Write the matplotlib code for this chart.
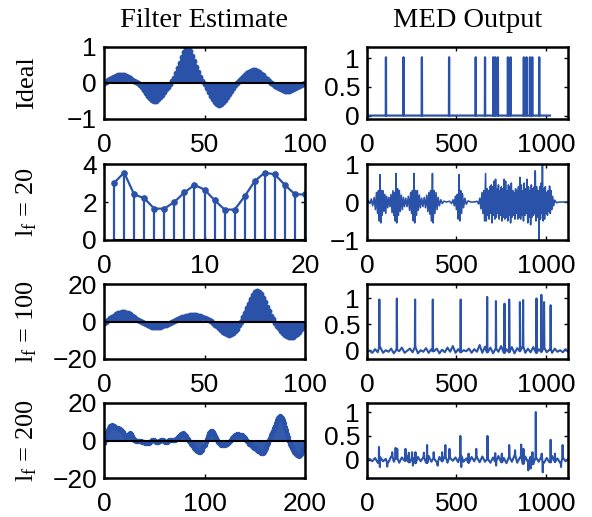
import numpy as np
import matplotlib
matplotlib.use('Agg')
import matplotlib.pyplot as plt

plt.rcParams['font.family'] = ['Liberation Sans', 'DejaVu Sans']
plt.rcParams['mathtext.fontset'] = 'custom'
plt.rcParams['mathtext.rm'] = 'Liberation Serif'
plt.rcParams['mathtext.it'] = 'Liberation Serif:italic'

BLUE = '#2a52a8'

# ---------------- data ----------------
col_titles = ['Filter Estimate', 'MED Output']
row_labels = ['Ideal', r'$\mathrm{l}_{\mathrm{f}}$ = 20', r'$\mathrm{l}_{\mathrm{f}}$ = 100', r'$\mathrm{l}_{\mathrm{f}}$ = 200']

ideal_filter = [0, 0.04, 0.08, 0.12, 0.15, 0.18, 0.20, 0.21, 0.22, 0.22,
                0.21, 0.19, 0.16, 0.13, 0.09, 0.06, 0.03, 0.0, -0.05, -0.12,
                -0.20, -0.28, -0.35, -0.42, -0.47, -0.50, -0.49, -0.45, -0.40, -0.33,
                -0.25, -0.17, -0.10, -0.03, 0.05, 0.15, 0.28, 0.42, 0.56, 0.72,
                0.86, 0.97, 1.0, 0.90, 0.76, 0.60, 0.45, 0.30, 0.17, 0.06,
                -0.04, -0.14, -0.25, -0.35, -0.44, -0.52, -0.57, -0.60, -0.58, -0.54,
                -0.47, -0.39, -0.30, -0.21, -0.13, -0.06, 0.0, 0.06, 0.12, 0.18,
                0.23, 0.28, 0.31, 0.34, 0.35, 0.35, 0.33, 0.30, 0.26, 0.21,
                0.15, 0.10, 0.05, 0.0, -0.04, -0.08, -0.12, -0.15, -0.18, -0.20,
                -0.21, -0.22, -0.21, -0.19, -0.17, -0.14, -0.11, -0.08, -0.05, -0.02,
                0.0]

lf20_filter = [3.0, 3.55, 2.4, 2.2, 1.65, 1.65, 2.0, 2.5, 2.9, 2.65,
               2.1, 1.6, 1.6, 2.3, 3.1, 3.55, 3.45, 2.9, 2.4, 2.4]

lf100_filter = [-1, 0, 1, 1.8, 2.5, 3.2, 3.8, 4.3, 4.7, 4.9,
                5.0, 4.8, 4.4, 3.8, 3.1, 2.4, 1.6, 0.9, 0.3, -0.3,
                -0.9, -1.5, -2.0, -2.4, -2.7, -2.9, -3.0, -3.0, -2.8, -2.5,
                -2.1, -1.7, -1.2, -0.7, -0.2, 0.3, 0.8, 1.3, 1.8, 2.2,
                2.6, 2.9, 3.2, 3.4, 3.5, 3.5, 3.4, 3.2, 2.9, 2.5,
                2.0, 1.4, 0.8, 0.1, -0.7, -1.6, -2.6, -3.6, -4.6, -5.5,
                -6.3, -6.8, -7.0, -6.8, -6.2, -5.2, -3.8, -2.0, 0.0, 2.2,
                4.5, 7.0, 9.5, 12.0, 14.0, 15.5, 16.2, 16.0, 14.5, 12.5,
                10.2, 7.8, 5.4, 3.2, 1.2, -0.6, -2.2, -3.7, -5.0, -6.1,
                -7.0, -7.7, -8.1, -8.2, -8.0, -7.4, -6.5, -5.4, -4.2, -3.0,
                -2.0]

lf200_filter = [-1.4, 0.5, 2.5, 4.3, 5.8, 6.9, 7.6, 8.0, 8.1, 7.9,
                7.5, 7.1, 6.8, 6.6, 6.5, 6.3, 6.0, 5.5, 5.0, 4.5,
                3.6, 2.6, 2.0, 2.4, 3.2, 3.7, 3.8, 3.3, 2.3, 1.2,
                0.5, 0.2, 0.0, -0.1, -0.2, -0.1, -0.2, -0.4, -0.6, -0.8,
                -1.0, -1.2, -1.3, -1.4, -1.4, -1.3, -0.9, -0.4, 0.1, 0.3,
                0.2, -0.2, -0.7, -1.0, -0.9, -0.5, 0.0, 0.3, 0.4, 0.2,
                -0.3, -0.8, -0.9, -0.6, -0.1, 0.3, 0.5, 0.4, 0.2, 0.1,
                0.2, 0.4, 0.8, 1.3, 1.9, 2.5, 3.0, 3.4, 3.7, 3.8,
                3.6, 3.1, 2.4, 1.6, 0.8, 0.0, -0.8, -1.6, -2.4, -3.1,
                -3.8, -4.4, -5.0, -5.4, -5.8, -6.0, -6.0, -5.6, -4.8, -3.6,
                -2.2, -0.6, 1.0, 2.6, 3.9, 4.8, 5.2, 5.0, 4.3, 3.3,
                2.2, 1.1, 0.1, -0.8, -1.5, -2.0, -2.3, -2.4, -2.4, -2.3,
                -2.2, -2.1, -1.8, -1.4, -0.8, -0.2, 0.5, 1.2, 1.9, 2.5,
                2.9, 3.2, 3.3, 3.3, 3.2, 3.1, 3.0, 2.8, 2.4, 1.8,
                1.1, 0.4, -0.3, -1.0, -1.6, -2.1, -2.6, -3.0, -3.4, -3.8,
                -4.2, -4.6, -5.0, -5.4, -5.8, -6.1, -6.4, -6.5, -6.5, -6.1,
                -5.2, -4.0, -2.6, -1.2, 0.2, 1.5, 2.8, 4.0, 5.3, 6.6,
                8.0, 9.4, 10.7, 11.8, 12.6, 12.9, 12.8, 12.0, 10.8, 9.2,
                7.4, 5.5, 3.6, 1.7, 0.0, -1.6, -3.0, -4.2, -5.2, -6.0,
                -6.7, -7.2, -7.6, -7.9, -8.0, -7.8, -7.2, -6.2, -5.0, -4.0,
                -3.0]

# ideal MED output: unit spikes in a 1024-sample signal
ideal_len = 1024
ideal_spikes = [1, 106, 204, 307, 459, 608, 660, 706, 717, 732, 788, 803, 877, 892, 911, 924, 963]
ideal_height = 1.02

# l_f = 20 MED output, read as (sample, value) turning points
med20_pts = [(0, 0.0), (8, 0.03), (16, -0.04), (24, 0.08), (32, -0.1), (40, 0.12), (47, -0.2),
             (53, 0.25), (59, -0.3), (64, 0.3), (69, -0.5), (73, 0.72), (77, -0.55), (81, 0.3),
             (85, -0.35), (90, 0.3), (95, -0.25), (100, 0.2), (105, -0.3), (110, 0.15), (116, -0.15),
             (122, 0.12), (128, -0.12), (134, 0.2), (140, -0.28), (145, 0.3), (150, -0.35), (154, 0.25),
             (158, -0.5), (162, 0.75), (166, -0.55), (171, 0.35), (176, -0.35), (181, 0.3), (186, -0.25),
             (192, 0.18), (198, -0.2), (204, 0.12), (210, -0.12), (217, 0.1), (224, -0.12), (231, 0.15),
             (238, -0.22), (244, 0.25), (249, -0.3), (254, 0.3), (259, -0.5), (263, 0.75), (267, -0.55),
             (272, 0.3), (277, -0.35), (282, 0.3), (287, -0.22), (293, 0.18), (299, -0.15), (306, 0.1),
             (313, -0.12), (320, 0.12), (327, -0.15), (334, 0.18), (340, -0.25), (346, 0.25), (351, -0.32),
             (356, 0.3), (361, -0.5), (366, 0.75), (370, -0.55), (375, 0.3), (380, -0.3), (386, 0.25),
             (392, -0.2), (398, 0.12), (405, -0.1), (413, 0.06), (421, -0.04), (430, 0.02), (445, 0.0),
             (462, 0.02), (473, -0.04), (481, 0.06), (488, -0.1), (494, 0.15), (500, -0.2), (505, 0.2),
             (510, -0.45), (515, 0.72), (519, -0.5), (524, 0.3), (529, -0.3), (534, 0.22), (540, -0.15),
             (547, 0.1), (555, -0.06), (565, 0.03), (580, 0.0), (600, 0.0), (615, 0.02), (624, -0.05),
             (631, 0.1), (637, -0.18), (643, 0.25), (648, -0.3), (653, 0.3), (658, -0.5), (663, 0.75),
             (667, -0.5), (671, 0.35), (675, -0.35), (679, 0.3), (683, -0.45), (687, 0.4), (691, -0.3),
             (695, 0.45), (699, -0.55), (703, 0.4), (707, -0.35), (711, 0.55), (715, -0.45), (719, 0.6),
             (723, -0.4), (727, 0.35), (731, -0.3), (735, 0.45), (739, -0.45), (743, 0.3), (747, -0.35),
             (751, 0.4), (755, -0.5), (759, 0.35), (763, -0.4), (767, 0.6), (771, -0.45), (775, 0.55),
             (779, -0.4), (783, 0.3), (787, -0.5), (791, 0.45), (795, -0.35), (799, 0.4), (803, -0.55),
             (807, 0.5), (811, -0.4), (815, 0.3), (819, -0.35), (823, 0.25), (827, -0.45), (831, 0.35),
             (835, -0.3), (839, 0.3), (843, -0.45), (847, 0.4), (851, -0.4), (855, 0.65), (859, -0.45),
             (863, 0.45), (867, -0.35), (871, 0.3), (875, -0.5), (879, 0.5), (883, -0.35), (887, 0.35),
             (891, -0.3), (895, 0.6), (899, -0.55), (903, 0.4), (907, -0.4), (911, 0.3), (915, -0.6),
             (919, 0.45), (923, -0.4), (927, 0.35), (931, -0.35), (935, 0.4), (938, -0.3), (941, 0.82),
             (945, -0.5), (950, 0.4), (955, -0.4), (959, 0.3), (962, -1.0), (966, 0.4), (970, -0.45),
             (974, 0.5), (977, -0.3), (981, 1.06), (985, -0.5), (989, 0.35), (993, -0.45), (997, 0.4),
             (1001, -0.3), (1005, 0.25), (1009, -0.35), (1013, 0.3), (1017, -0.25), (1021, 0.42),
             (1025, -0.3), (1029, 0.3), (1033, -0.2), (1038, 0.15), (1044, -0.1), (1050, 0.05),
             (1060, -0.02), (1075, 0.0), (1124, 0.0)]

# l_f = 100 MED output: low-level floor every 15 samples plus spikes
floor_step = 15
med100_floor = [-0.03, -0.01, -0.05, 0.02, -0.04, 0.05, -0.05, 0.00, -0.03, 0.03,
                -0.06, 0.01, -0.02, 0.05, -0.05, -0.01, 0.03, -0.04, 0.06, -0.06,
                0.00, -0.03, 0.04, -0.05, 0.02, -0.02, 0.03, -0.06, 0.01, -0.04,
                0.05, -0.03, 0.08, -0.05, 0.02, -0.04, 0.00, -0.02, 0.03, -0.05,
                0.02, -0.03, 0.10, -0.05, 0.07, -0.04, 0.05, -0.06, 0.03, -0.03,
                0.08, -0.05, 0.02, -0.04, 0.06, -0.06, 0.04, -0.02, 0.07, -0.05,
                0.03, -0.04, 0.06, -0.05, 0.02, -0.03, 0.05, -0.04, 0.01, -0.05,
                0.03, -0.03, 0.00, -0.04, 0.02, -0.03]
med100_spike_pos = [69, 167, 269, 368, 524, 672, 721, 769, 795, 855, 873, 948, 975, 990, 1027]
med100_spike_val = [0.98, 1.0, 0.98, 0.98, 0.98, 1.03, 0.95, 0.9, 0.98, 0.93, 0.97, 1.0, 1.07, 0.93, 0.87]

# l_f = 200 MED output
med200_floor = [0.00, 0.02, -0.03, 0.04, -0.06, 0.05, -0.03, 0.02, -0.05, 0.07,
                -0.04, 0.03, -0.06, 0.05, -0.02, 0.08, -0.05, 0.04, -0.07, 0.06,
                -0.03, 0.05, -0.06, 0.08, -0.04, 0.03, -0.05, 0.06, -0.03, 0.07,
                -0.06, 0.04, -0.02, 0.05, -0.05, 0.08, -0.04, 0.03, -0.06, 0.06,
                -0.03, 0.05, -0.05, 0.07, -0.04, 0.02, -0.06, 0.05, -0.03, 0.08,
                -0.05, 0.04, -0.07, 0.06, -0.04, 0.09, -0.06, 0.05, -0.08, 0.07,
                -0.05, 0.06, -0.09, 0.05, -0.04, 0.07, -0.06, 0.04, -0.05, 0.08,
                -0.04, 0.03, -0.06, 0.05, -0.03, 0.02]
med200_spike_pos = [67, 72, 113, 141, 160, 169, 215, 234, 252, 257, 271, 318, 336, 373, 395, 420,
                    438, 461, 522, 527, 568, 611, 674, 717, 722, 754, 795, 828, 862, 875, 902, 915,
                    925, 944, 977, 983, 1027, 1051, 1085, 1094]
med200_spike_val = [0.27, -0.15, -0.14, 0.16, 0.25, 0.23, 0.23, 0.15, 0.16, -0.12, 0.16, 0.15, 0.31,
                    0.16, -0.12, 0.16, 0.31, 0.23, 0.5, -0.15, 0.13, 0.23, 0.5, 0.14, -0.12, 0.13,
                    0.31, 0.2, 0.32, 0.23, -0.22, -0.18, 0.16, 1.0, 0.13, -0.26, 0.42, 0.13, -0.15, 0.31]

med_xlim = (0, 1124)

# ---------------- figure ----------------
W, H = 592, 517
fig = plt.figure(figsize=(W / 100, H / 100), dpi=100)

rows_px = [(47, 119), (164, 240), (284, 359), (403, 478)]
left_px = (104, 305)
right_px = (367, 568)


def add_ax(xr, yr):
    return fig.add_axes([xr[0] / W, 1 - yr[1] / H, (xr[1] - xr[0]) / W, (yr[1] - yr[0]) / H])


def style(ax):
    for s in ax.spines.values():
        s.set_linewidth(1.8)
    ax.tick_params(direction='in', length=3, width=1, top=True, right=True, labelsize=19)
    ax.tick_params(axis='x', pad=10)
    ax.tick_params(axis='y', pad=5)


def stem_panel(ax, x, y, lw, ms):
    ax.vlines(x, 0, y, color=BLUE, lw=lw)
    ax.plot(x, y, '-', color=BLUE, lw=lw)
    ax.plot(x, y, 'o', color=BLUE, ms=ms, mec=BLUE)
    ax.plot([x[0], x[-1]], [0, 0], color='k', lw=1.5)


def merge(floor, spike_pos, spike_val):
    """Polyline from the floor samples plus narrow spikes (each spike sits on the nearest floor value)."""
    floor = np.asarray(floor, float)
    fx = np.arange(len(floor)) * floor_step
    xs, ys = [fx], [floor]
    for p, v in zip(spike_pos, spike_val):
        base = floor[int(round(p / floor_step))]
        xs.append(np.array([p - 1.5, p, p + 1.5], float))
        ys.append(np.array([base, v, base], float))
    X = np.concatenate(xs)
    Y = np.concatenate(ys)
    o = np.argsort(X, kind='stable')
    return X[o], Y[o]


# left column
filters = [ideal_filter, lf20_filter, lf100_filter, lf200_filter]
left_ylims = [(-1, 1), (0, 4), (-20, 20), (-20, 20)]
left_yticks = [[-1, 0, 1], [0, 2, 4], [-20, 0, 20], [-20, 0, 20]]
left_xticks = [[0, 50, 100], [0, 10, 20], [0, 50, 100], [0, 100, 200]]
stem_lw = [1.6, 1.6, 1.6, 1.1]
stem_ms = [3.2, 3.8, 3.2, 2.8]

for i, f in enumerate(filters):
    ax = add_ax(left_px, rows_px[i])
    style(ax)
    n = len(f)
    x = np.arange(1, n + 1) if i == 1 else np.arange(n)
    stem_panel(ax, x, np.asarray(f, float), stem_lw[i], stem_ms[i])
    ax.set_xlim(left_xticks[i][0], left_xticks[i][-1])
    ax.set_ylim(*left_ylims[i])
    ax.set_xticks(left_xticks[i])
    ax.set_yticks(left_yticks[i])
    fig.text(33 / W, 1 - (rows_px[i][0] + rows_px[i][1]) / 2 / H, row_labels[i],
             rotation=90, rotation_mode='anchor', ha='center', va='baseline',
             fontsize=19, family='Liberation Serif')

# right column
right_ylims = [(-0.06, 1.2), (-1, 1), (-0.17, 1.28), (-0.38, 1.19)]
right_yticks = [[0, 0.5, 1], [-1, 0, 1], [0, 0.5, 1], [0, 0.5, 1]]
right_yticklabels = [['0', '0.5', '1'], ['\u22121', '0', '1'], ['0', '0.5', '1'], ['0', '0.5', '1']]

ideal_out = np.zeros(ideal_len)
ideal_out[ideal_spikes] = ideal_height
m20 = np.array(med20_pts, float)
x100, y100 = merge(med100_floor, med100_spike_pos, med100_spike_val)
x200, y200 = merge(med200_floor, med200_spike_pos, med200_spike_val)
outputs = [(np.arange(ideal_len), ideal_out), (m20[:, 0], m20[:, 1]), (x100, y100), (x200, y200)]
right_lw = [1.6, 1.15, 1.5, 1.5]

for i, (xx, yy) in enumerate(outputs):
    ax = add_ax(right_px, rows_px[i])
    style(ax)
    ax.plot(xx, yy, color=BLUE, lw=right_lw[i])
    ax.set_xlim(*med_xlim)
    ax.set_ylim(*right_ylims[i])
    ax.set_xticks([0, 500, 1000])
    ax.set_yticks(right_yticks[i])
    ax.set_yticklabels(right_yticklabels[i])

# column titles
fig.text((left_px[0] + left_px[1]) / 2 / W, 1 - 27 / H, col_titles[0], ha='center', va='baseline',
         fontsize=20.5, family='Liberation Serif')
fig.text((right_px[0] + right_px[1]) / 2 / W, 1 - 27 / H, col_titles[1], ha='center', va='baseline',
         fontsize=20.5, family='Liberation Serif')

fig.savefig('out.png', dpi=100)
